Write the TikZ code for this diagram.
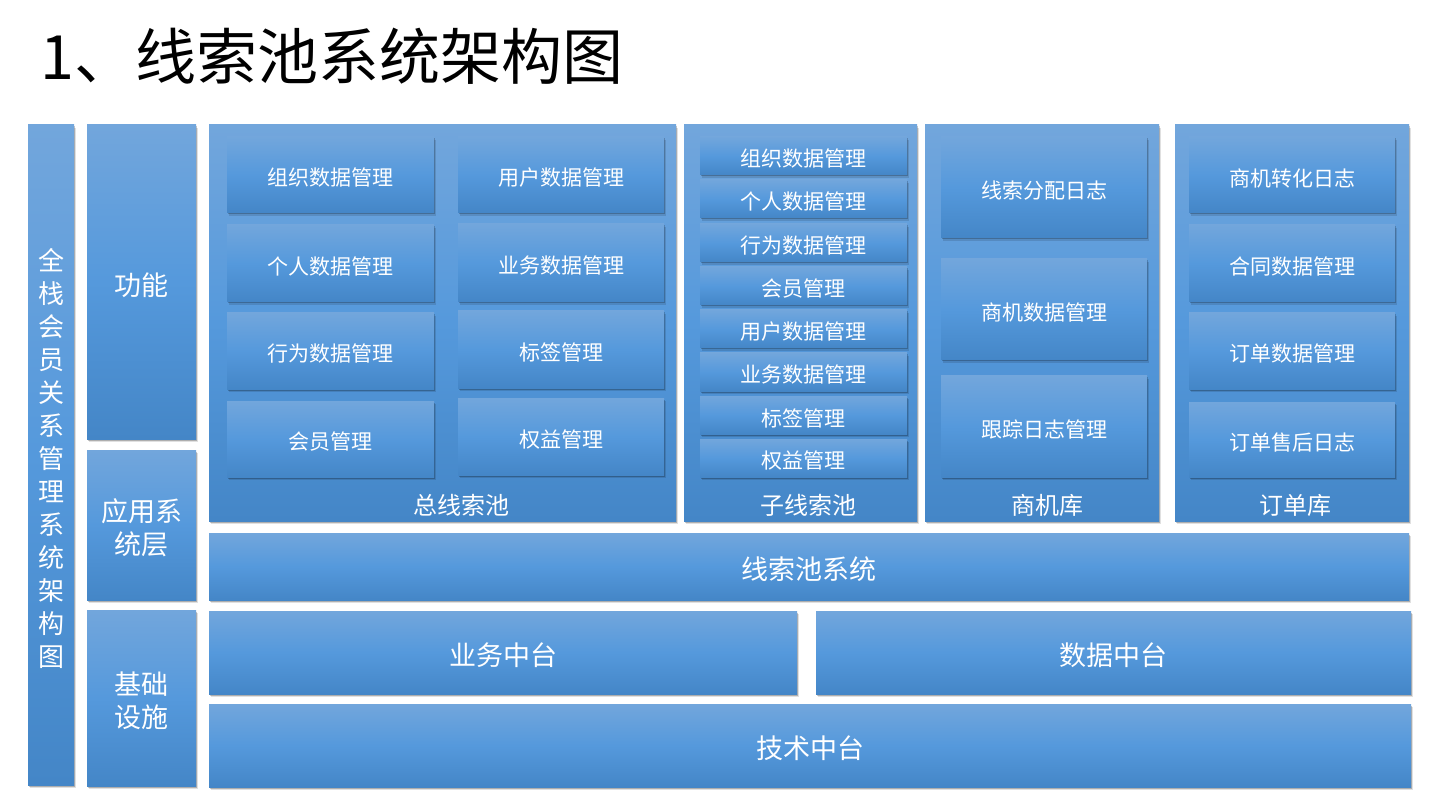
\documentclass[tikz,border=0pt]{standalone}
\usepackage{fontspec}
\setmainfont{Noto Sans CJK SC}
\usetikzlibrary{shadows}
\definecolor{bTop}{RGB}{114,166,220}
\definecolor{bMid}{RGB}{85,153,220}
\definecolor{bBot}{RGB}{68,134,199}
\tikzset{
  bluebox/.style={top color=bTop, bottom color=bBot, middle color=bMid, draw=none,
    drop shadow={shadow xshift=2pt, shadow yshift=-3pt, fill=black, opacity=0.12},
    drop shadow={shadow xshift=1pt, shadow yshift=-1.5pt, fill=black, opacity=0.22},
    text=white, inner sep=0pt, align=center},
  lbl/.style={text=white, inner sep=0pt, align=center},
  fsmall/.style={font=\fontsize{21}{25}\selectfont},
  fmid/.style={font=\fontsize{24}{28}\selectfont},
  fbig/.style={font=\fontsize{27}{33}\selectfont},
  fvert/.style={font=\fontsize{26}{33}\selectfont},
}
% name, x1, y1, x2, y2, style, text
\newcommand\bx[7]{%
  \node[bluebox, minimum width={#4pt-#2pt}, minimum height={#5pt-#3pt},
    label={[lbl, #6, yshift=-3pt]center:#7}]
    (#1) at ({(#2+#4)/2},{(#3+#5)/2}) {};}
\begin{document}
\begin{tikzpicture}[x=1pt, y=-1pt]
\useasboundingbox (0,0) rectangle (1432,799);
\fill[white] (0,0) rectangle (1432,799);

% title
\node[anchor=west, inner sep=0pt, font=\fontsize{61}{66}\selectfont] (title) at (40,56) {1、线索池系统架构图};

% left columns
\bx{lbar}{28}{125}{74}{785}{fvert}{全\\栈\\会\\员\\关\\系\\管\\理\\系\\统\\架\\构\\图}
\bx{gn}{87}{125}{196}{439}{fbig}{功能}
\bx{yy}{87}{450}{196}{600}{fbig}{应用系\\统层}
\bx{jc}{87}{610}{196}{786}{fbig}{基础\\设施}

% containers
\bx{zong}{209}{125}{676}{521}{fmid}{}
\bx{zi}{684}{125}{917}{521}{fmid}{}
\bx{shang}{925}{125}{1159}{521}{fmid}{}
\bx{ding}{1175}{125}{1409}{521}{fmid}{}
\node[lbl, fmid] (zongl) at (461,505) {总线索池};
\node[lbl, fmid] (zil) at (808,505) {子线索池};
\node[lbl, fmid] (shangl) at (1047,505) {商机库};
\node[lbl, fmid] (dingl) at (1295,505) {订单库};

% 总线索池
\bx{z1}{227}{137}{434}{213}{fsmall}{组织数据管理}
\bx{z2}{227}{225}{434}{302}{fsmall}{个人数据管理}
\bx{z3}{227}{313}{434}{389}{fsmall}{行为数据管理}
\bx{z4}{227}{401}{434}{477}{fsmall}{会员管理}
\bx{z5}{458}{137}{664}{213}{fsmall}{用户数据管理}
\bx{z6}{458}{224}{664}{302}{fsmall}{业务数据管理}
\bx{z7}{458}{311}{664}{388}{fsmall}{标签管理}
\bx{z8}{458}{398}{664}{475}{fsmall}{权益管理}

% 子线索池
\bx{s1}{700}{137}{907}{175}{fsmall}{组织数据管理}
\bx{s2}{700}{180}{907}{218}{fsmall}{个人数据管理}
\bx{s3}{700}{224}{907}{262}{fsmall}{行为数据管理}
\bx{s4}{700}{267}{907}{305}{fsmall}{会员管理}
\bx{s5}{700}{310}{907}{348}{fsmall}{用户数据管理}
\bx{s6}{700}{353}{907}{391}{fsmall}{业务数据管理}
\bx{s7}{700}{396}{907}{434}{fsmall}{标签管理}
\bx{s8}{700}{439}{907}{477}{fsmall}{权益管理}

% 商机库
\bx{c1}{941}{137}{1147}{238}{fsmall}{线索分配日志}
\bx{c2}{941}{259}{1147}{360}{fsmall}{商机数据管理}
\bx{c3}{941}{376}{1147}{477}{fsmall}{跟踪日志管理}

% 订单库
\bx{d1}{1189}{137}{1395}{213}{fsmall}{商机转化日志}
\bx{d2}{1189}{225}{1395}{302}{fsmall}{合同数据管理}
\bx{d3}{1189}{313}{1395}{389}{fsmall}{订单数据管理}
\bx{d4}{1189}{402}{1395}{477}{fsmall}{订单售后日志}

% bottom layers
\bx{xsc}{209}{533}{1409}{600}{fbig}{线索池系统}
\bx{yw}{209}{611}{797}{694}{fbig}{业务中台}
\bx{sj}{816}{611}{1411}{694}{fbig}{数据中台}
\bx{js}{209}{704}{1411}{787}{fbig}{技术中台}
\end{tikzpicture}
\end{document}
